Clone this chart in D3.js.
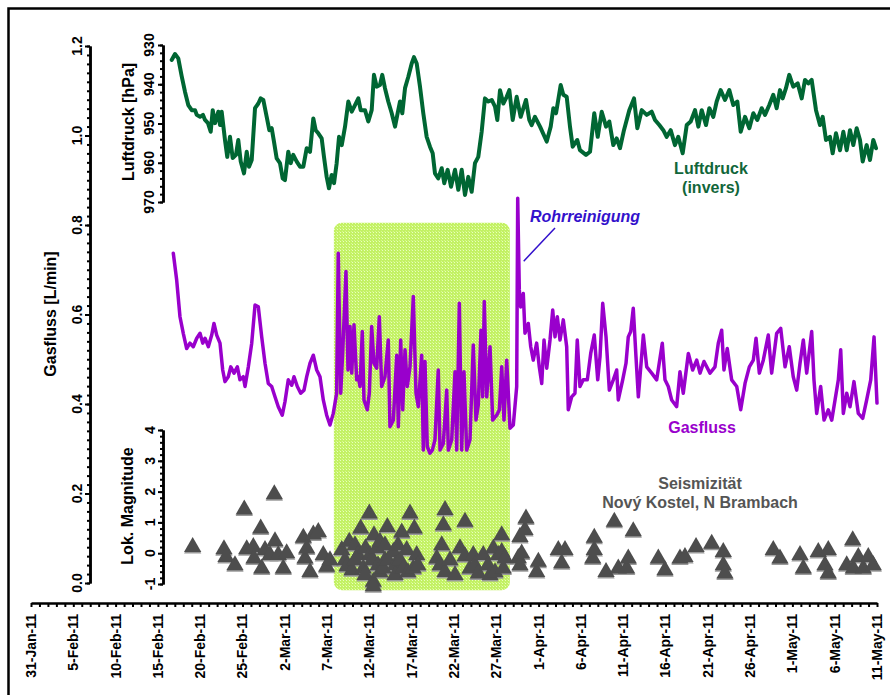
<!DOCTYPE html>
<html>
<head>
<meta charset="utf-8">
<script src="https://cdn.jsdelivr.net/npm/d3@7"></script>
<style>
  html, body { margin: 0; padding: 0; background: #fff; }
  svg { display: block; }
  text { font-family: "Liberation Sans", Arial, Helvetica, sans-serif; font-weight: bold; }
</style>
</head>
<body>
<svg id="chart" width="890" height="695"></svg>
<script>
// Time is given in days after 31 Jan 2011 (UTC).
const baseDate = Date.UTC(2011, 0, 31);

// Air pressure (hPa), drawn on an inverted axis: [day, hPa]
const luftdruck = [
  [16.63,933.8],[17.02,932.3],[17.41,933.4],[17.81,937.9],[18.20,941.9],[18.59,945.3],[19.00,946.6],[19.39,946.6],
  [19.59,947.8],[19.98,948.3],[20.33,947.8],[20.57,949.1],[20.92,949.9],[21.24,952.1],[21.48,946.6],[21.75,949.9],
  [22.14,947.0],[22.34,950.4],[22.54,947.0],[22.93,954.2],[23.20,958.5],[23.52,953.4],[23.84,958.8],[24.23,958.0],
  [24.50,954.2],[24.79,959.7],[25.18,962.7],[25.50,957.2],[25.77,961.0],[26.09,959.3],[26.48,946.1],[26.87,944.9],
  [27.15,943.6],[27.46,944.0],[27.86,948.3],[28.17,951.7],[28.45,951.2],[28.72,954.6],[29.04,958.9],[29.43,960.1],
  [29.75,964.0],[30.02,964.4],[30.41,957.2],[30.70,960.1],[31.00,958.0],[31.41,959.7],[31.80,961.0],[32.19,961.0],
  [32.59,956.3],[32.98,957.2],[33.37,948.7],[33.65,951.7],[33.96,952.5],[34.36,953.8],[34.63,958.5],[34.95,963.6],
  [35.22,966.5],[35.54,963.1],[35.82,965.2],[36.13,960.1],[36.41,953.4],[36.73,955.5],[37.12,950.8],[37.51,944.4],
  [37.91,947.0],[38.30,945.3],[38.69,943.6],[38.97,946.6],[39.48,946.6],[39.87,949.5],[40.27,946.6],[40.54,937.6],
  [40.86,940.6],[41.25,940.2],[41.52,937.6],[41.84,941.0],[42.23,944.4],[42.64,947.4],[43.03,950.8],[43.30,947.8],
  [43.62,944.4],[43.89,947.4],[44.21,941.0],[44.60,938.1],[45.00,934.7],[45.27,933.1],[45.59,934.7],[45.98,940.6],
  [46.37,947.4],[46.77,953.4],[47.16,955.9],[47.48,957.6],[47.75,962.7],[48.14,964.0],[48.55,961.4],[48.85,965.2],
  [49.25,961.8],[49.65,966.1],[50.12,961.8],[50.51,966.9],[50.91,961.8],[51.30,968.2],[51.69,963.6],[52.09,967.4],
  [52.48,960.1],[52.87,958.5],[53.27,952.1],[53.66,943.6],[54.05,944.4],[54.46,944.0],[54.85,945.7],[55.12,949.1],
  [55.44,941.5],[55.83,944.9],[56.23,943.2],[56.54,941.5],[56.94,949.1],[57.41,943.2],[57.88,948.3],[58.51,944.0],
  [58.90,949.1],[59.18,950.4],[59.57,948.3],[60.17,950.8],[60.96,954.6],[61.43,950.8],[61.74,946.1],[62.06,947.4],
  [62.61,940.2],[62.92,942.7],[63.32,943.2],[63.71,950.8],[64.03,955.9],[64.57,954.2],[64.89,956.8],[65.60,958.0],
  [66.08,957.2],[66.58,947.4],[66.99,953.4],[67.46,947.0],[67.97,950.8],[68.36,949.5],[68.83,955.5],[69.23,953.8],
  [69.62,956.3],[70.09,951.7],[70.72,946.6],[71.28,943.6],[71.67,951.2],[72.19,946.6],[72.78,947.8],[73.37,947.0],
  [73.76,949.1],[74.27,950.4],[74.74,951.7],[75.14,953.4],[75.61,951.7],[76.12,955.5],[76.51,953.4],[77.03,957.6],
  [77.51,950.4],[77.98,949.5],[78.49,946.6],[78.88,950.8],[79.28,946.6],[79.79,950.4],[80.18,946.1],[80.65,948.3],
  [81.05,944.4],[81.52,941.5],[82.03,944.0],[82.54,941.5],[83.01,945.3],[83.49,944.4],[83.89,952.1],[84.40,948.3],
  [84.91,951.2],[85.38,947.4],[85.85,949.1],[86.37,946.1],[86.76,947.8],[87.27,945.3],[87.74,942.7],[88.14,946.1],
  [88.53,941.5],[88.85,943.6],[89.24,941.0],[89.63,937.6],[90.10,940.6],[90.63,939.8],[91.10,943.6],[91.49,938.9],
  [91.88,939.8],[92.28,938.9],[92.79,946.6],[93.26,950.4],[93.58,948.3],[93.97,954.2],[94.44,953.4],[94.76,957.6],
  [95.15,952.5],[95.63,956.8],[96.02,952.1],[96.42,956.8],[96.81,951.7],[97.20,955.5],[97.60,951.2],[97.99,954.2],
  [98.31,959.7],[98.78,955.5],[99.17,959.3],[99.56,954.2],[99.88,956.3]
];

// Gas flow (L/min): [day, value]
const gasfluss = [
  [16.82,0.737],[17.22,0.677],[17.61,0.595],[18.00,0.558],[18.40,0.524],[18.79,0.536],[19.18,0.528],[19.59,0.547],
  [19.98,0.558],[20.30,0.536],[20.57,0.547],[20.96,0.528],[21.36,0.554],[21.63,0.580],[21.95,0.554],[22.34,0.536],
  [22.66,0.476],[22.93,0.450],[23.32,0.461],[23.61,0.483],[24.00,0.469],[24.39,0.483],[24.70,0.454],[25.09,0.461],
  [25.30,0.439],[25.69,0.483],[26.09,0.536],[26.48,0.621],[26.87,0.617],[27.27,0.550],[27.66,0.491],[28.05,0.446],
  [28.45,0.439],[28.84,0.416],[29.23,0.394],[29.70,0.375],[30.02,0.405],[30.41,0.454],[30.82,0.442],[31.09,0.461],
  [31.48,0.439],[31.88,0.424],[32.27,0.431],[32.59,0.461],[32.98,0.491],[33.37,0.509],[33.77,0.476],[34.16,0.461],
  [34.55,0.409],[34.95,0.375],[35.34,0.353],[35.73,0.379],[36.13,0.424],[36.32,0.737],[36.61,0.424],[36.84,0.513],
  [37.23,0.696],[37.47,0.476],[37.71,0.573],[37.91,0.469],[38.18,0.577],[38.50,0.454],[38.69,0.461],[38.89,0.439],
  [39.16,0.562],[39.36,0.409],[39.75,0.387],[39.99,0.424],[40.27,0.573],[40.54,0.491],[40.86,0.480],[41.17,0.595],
  [41.45,0.439],[41.84,0.461],[42.23,0.543],[42.43,0.349],[42.83,0.364],[43.23,0.509],[43.42,0.349],[43.70,0.543],
  [43.94,0.387],[44.21,0.521],[44.48,0.439],[44.80,0.483],[45.19,0.640],[45.51,0.424],[45.78,0.394],[46.18,0.509],
  [46.37,0.297],[46.57,0.495],[46.84,0.305],[47.16,0.290],[47.44,0.297],[47.75,0.320],[48.14,0.476],[48.35,0.297],
  [48.74,0.312],[49.14,0.431],[49.33,0.297],[49.73,0.320],[50.12,0.472],[50.32,0.297],[50.63,0.625],[50.91,0.297],
  [51.18,0.472],[51.50,0.297],[51.89,0.320],[52.28,0.532],[52.60,0.364],[52.87,0.398],[53.19,0.565],[53.39,0.416],
  [53.58,0.629],[53.87,0.416],[54.26,0.528],[54.57,0.364],[55.05,0.375],[55.36,0.387],[55.64,0.483],[55.91,0.364],
  [56.23,0.498],[56.62,0.346],[57.01,0.353],[57.41,0.439],[57.53,0.860],[57.72,0.655],[57.88,0.617],[58.19,0.647],
  [58.39,0.558],[58.78,0.580],[59.07,0.528],[59.37,0.498],[59.77,0.536],[60.08,0.483],[60.37,0.446],[60.64,0.543],
  [60.96,0.480],[61.35,0.543],[61.67,0.610],[61.94,0.550],[62.21,0.595],[62.53,0.543],[62.92,0.588],[63.32,0.528],
  [63.51,0.387],[63.91,0.416],[64.30,0.424],[64.57,0.543],[64.89,0.439],[65.28,0.454],[65.76,0.454],[66.16,0.513],
  [66.58,0.554],[66.99,0.454],[67.26,0.506],[67.58,0.625],[67.97,0.550],[68.36,0.431],[68.83,0.454],[69.23,0.476],
  [69.42,0.409],[69.94,0.454],[70.33,0.491],[70.60,0.550],[70.89,0.562],[71.19,0.614],[71.51,0.506],[71.79,0.416],
  [72.38,0.554],[72.78,0.483],[73.37,0.469],[73.96,0.454],[74.62,0.536],[74.94,0.454],[75.33,0.439],[75.73,0.409],
  [76.32,0.394],[76.71,0.472],[77.10,0.424],[77.70,0.513],[78.21,0.476],[78.69,0.498],[79.08,0.469],[79.55,0.495],
  [80.26,0.469],[80.85,0.483],[81.24,0.536],[81.64,0.565],[81.91,0.476],[82.30,0.524],[82.82,0.454],[83.42,0.439],
  [83.89,0.387],[84.40,0.446],[84.91,0.483],[85.38,0.498],[85.70,0.547],[86.09,0.469],[86.56,0.498],[87.15,0.554],
  [87.55,0.469],[88.14,0.558],[88.62,0.569],[89.13,0.483],[89.63,0.528],[90.10,0.461],[90.51,0.431],[90.90,0.491],
  [91.29,0.543],[91.69,0.469],[92.28,0.562],[92.55,0.454],[92.87,0.379],[93.34,0.439],[93.74,0.364],[94.24,0.387],
  [94.65,0.364],[95.04,0.409],[95.43,0.454],[95.71,0.521],[96.02,0.379],[96.42,0.424],[96.81,0.394],[97.28,0.450],
  [97.79,0.379],[98.31,0.368],[98.78,0.409],[99.26,0.454],[99.65,0.550],[100.0,0.402]
];

// Local magnitudes of the earthquakes: [day, magnitude]
const seismizitaet = [
  [19.11,0.20],[22.81,0.13],[23.05,-0.12],[24.11,-0.39],[25.21,1.42],[25.50,0.13],[26.28,0.20],[26.36,-0.17],
  [27.15,0.80],[27.27,-0.50],[27.66,0.10],[28.25,-0.06],[28.76,1.91],[28.84,0.39],[29.23,-0.06],[29.82,-0.50],
  [30.22,0.00],[32.19,0.50],[32.39,-0.17],[32.59,0.15],[32.98,-0.61],[33.37,0.61],[33.96,0.69],[34.55,-0.06],
  [34.95,-0.44],[35.34,-0.23],[36.73,0.10],[37.12,-0.23],[37.35,-0.42],[37.62,0.37],[37.94,-0.55],[38.30,-0.23],
  [38.30,0.26],[38.65,-0.06],[38.97,0.80],[39.28,-0.50],[39.48,-0.71],[39.54,0.16],[39.99,1.29],[40.07,-0.06],
  [40.31,-0.23],[40.46,-0.93],[40.46,-1.07],[40.54,0.58],[40.90,0.16],[41.02,-0.39],[41.25,0.37],[41.25,-0.62],
  [41.64,-0.50],[41.84,-0.23],[41.84,0.26],[42.12,0.85],[42.20,-0.23],[42.83,0.04],[43.03,-0.39],[43.03,-0.71],
  [43.38,0.26],[43.62,-0.23],[43.82,0.67],[44.01,-0.50],[44.41,0.10],[44.56,-0.62],[44.80,1.29],[45.19,-0.50],
  [45.31,0.80],[45.59,-0.06],[45.74,-0.39],[47.96,-0.17],[48.35,-0.39],[48.55,0.26],[48.74,0.91],[48.94,1.40],
  [48.94,-0.61],[49.53,-0.23],[50.12,-0.71],[50.71,0.16],[51.30,1.02],[51.30,-0.10],[51.89,-0.50],[52.28,-0.06],
  [52.48,-0.39],[52.87,-0.66],[53.46,-0.06],[54.02,-0.39],[54.26,-0.71],[54.65,0.15],[54.85,-0.62],[55.24,-0.06],
  [55.64,0.58],[55.64,0.04],[55.83,-0.50],[56.03,-0.16],[57.60,-0.16],[57.80,0.53],[57.80,-0.39],[58.00,-0.01],
  [58.39,0.75],[58.51,1.13],[59.77,-0.61],[59.97,-0.28],[62.33,0.10],[62.73,-0.33],[63.12,0.10],[66.40,-0.17],
  [66.58,0.50],[66.58,0.10],[67.97,-0.61],[68.95,1.02],[69.42,-0.50],[70.41,-0.50],[70.60,-0.17],[71.19,0.71],
  [74.15,-0.17],[74.94,-0.55],[76.71,-0.17],[77.30,-0.12],[78.61,0.20],[80.46,0.31],[81.83,0.04],[81.83,-0.39],
  [82.03,-0.66],[87.74,0.10],[88.53,-0.17],[90.90,-0.06],[91.29,-0.50],[93.06,0.04],[93.85,-0.39],[94.24,0.10],
  [94.24,-0.66],[96.42,-0.39],[97.13,0.42],[97.20,-0.50],[97.79,-0.12],[98.38,-0.50],[98.97,-0.12],[99.56,-0.39]
];

// Swarm period shaded in green: [start day, end day]
const schwarmPeriode = [35.8, 56.6];
// Gas-flow peak caused by the pipe cleaning
const rohrreinigung = [57.53, 0.860];

// Axis ticks
const gasTicks = [0.0, 0.2, 0.4, 0.6, 0.8, 1.0, 1.2];
const druckTicks = [930, 940, 950, 960, 970];
const magTicks = [-1, 0, 1, 2, 3, 4];
const dateLabelStep = 5;

const toDate = d => new Date(baseDate + d * 864e5);
const svg = d3.select("#chart");

// Scales
const x = d3.scaleUtc().domain([toDate(0), toDate(100)]).range([31, 877]);
const yGas = d3.scaleLinear().domain([0, 1.2]).range([583, 46]);
const yDruck = d3.scaleLinear().domain([930, 970]).range([45, 202]);
const yMag = d3.scaleLinear().domain([-1, 4]).range([584, 430]);

// Outer frame
svg.append("rect").attr("x", 8.5).attr("y", 8.5).attr("width", 900).attr("height", 700)
  .attr("fill", "none").attr("stroke", "#000").attr("stroke-width", 2.5);

// Dotted light-green fill for the swarm period
const defs = svg.append("defs");
const pat = defs.append("pattern").attr("id", "dots").attr("patternUnits", "userSpaceOnUse")
  .attr("width", 3).attr("height", 3);
pat.append("rect").attr("width", 3).attr("height", 3).attr("fill", "#c3f164");
pat.append("rect").attr("x", 1).attr("y", 1).attr("width", 1).attr("height", 1).attr("fill", "#e9ffbe");
pat.append("rect").attr("x", 0).attr("y", 0).attr("width", 1).attr("height", 1).attr("fill", "#d6fa90");

svg.append("rect")
  .attr("x", x(toDate(schwarmPeriode[0])))
  .attr("y", yGas(0.805))
  .attr("width", x(toDate(schwarmPeriode[1])) - x(toDate(schwarmPeriode[0])))
  .attr("height", yMag(-1.2) - yGas(0.805))
  .attr("rx", 8).attr("ry", 8)
  .attr("fill", "url(#dots)");

// Axes helpers
function styleAxis(g, width) {
  g.select(".domain").attr("stroke", "#000").attr("stroke-width", width);
  g.selectAll(".tick line").attr("stroke", "#000").attr("stroke-width", 2);
  g.selectAll(".tick text").remove();
}

function verticalAxis(scale, xPos, major, minorStep, labelX, fmt) {
  const [a, b] = scale.domain();
  const lo = Math.min(a, b), hi = Math.max(a, b);
  const minor = d3.range(lo, hi + minorStep / 2, minorStep);
  const gMinor = svg.append("g").attr("transform", `translate(${xPos},0)`)
    .call(d3.axisLeft(scale).tickValues(minor).tickSize(3).tickSizeOuter(0));
  styleAxis(gMinor, 2.5);
  const gMajor = svg.append("g").attr("transform", `translate(${xPos},0)`)
    .call(d3.axisLeft(scale).tickValues(major).tickSize(5).tickSizeOuter(0));
  styleAxis(gMajor, 2.5);
  svg.append("g").selectAll("text").data(major).join("text")
    .attr("transform", d => `translate(${labelX},${scale(d)}) rotate(-90)`)
    .attr("text-anchor", "middle").attr("dy", "0.35em")
    .attr("font-size", 14).attr("fill", "#000")
    .text(fmt);
}

verticalAxis(yGas, 90, gasTicks, 0.02, 77, d3.format(".1f"));
verticalAxis(yDruck, 163, druckTicks, 2, 149, d => d);
verticalAxis(yMag, 163, magTicks, 0.2, 150, d => d);

// Time axis
const days = d3.range(0, 101).map(toDate);
const gx = svg.append("g").attr("transform", "translate(0,603)")
  .call(d3.axisBottom(x).tickValues(days).tickSize(4).tickSizeOuter(0));
styleAxis(gx, 2.5);
const labelDays = d3.range(0, 101, dateLabelStep).map(toDate);
const fmtDate = d3.utcFormat("%-d-%b-%y");
svg.append("g").selectAll("text").data(labelDays).join("text")
  .attr("transform", d => `translate(${x(d)},614) rotate(-90)`)
  .attr("text-anchor", "end").attr("dy", "0.35em")
  .attr("font-size", 14).attr("fill", "#000")
  .text(fmtDate);

// Axis titles
function vTitle(txt, cx, cy) {
  svg.append("text").attr("transform", `translate(${cx},${cy}) rotate(-90)`)
    .attr("text-anchor", "middle").attr("dy", "0.35em")
    .attr("font-size", 16).attr("fill", "#000").text(txt);
}
vTitle("Gasfluss [L/min]", 50, 314);
vTitle("Luftdruck [hPa]", 128, 122);
vTitle("Lok. Magnitude", 127, 506);

// Earthquakes
const tri = d3.symbol().type(d3.symbolTriangle).size(130);
const gq = svg.append("g");
gq.selectAll("path.shadow").data(seismizitaet).join("path").attr("class", "shadow")
  .attr("d", tri).attr("fill", "#9a9a9a")
  .attr("transform", d => `translate(${x(toDate(d[0]))},${yMag(d[1]) + 1.5})`);
gq.selectAll("path.quake").data(seismizitaet).join("path").attr("class", "quake")
  .attr("d", tri).attr("fill", "#4d4d4d")
  .attr("transform", d => `translate(${x(toDate(d[0]))},${yMag(d[1])})`);

// Gas flow line
svg.append("path").datum(gasfluss)
  .attr("fill", "none").attr("stroke", "#9900cc").attr("stroke-width", 3.5)
  .attr("stroke-linejoin", "round").attr("stroke-linecap", "round")
  .attr("d", d3.line().x(d => x(toDate(d[0]))).y(d => yGas(d[1])));

// Air pressure line
svg.append("path").datum(luftdruck)
  .attr("fill", "none").attr("stroke", "#006633").attr("stroke-width", 4)
  .attr("stroke-linejoin", "round").attr("stroke-linecap", "round")
  .attr("d", d3.line().x(d => x(toDate(d[0]))).y(d => yDruck(d[1])));

// Labels
function label(lines, cx, cy, color, size, italic) {
  const t = svg.append("text").attr("text-anchor", "middle").attr("fill", color)
    .attr("font-size", size).attr("font-style", italic ? "italic" : "normal");
  lines.forEach((s, i) => t.append("tspan").attr("x", cx).attr("y", cy + i * 19).text(s));
}
label(["Luftdruck", "(invers)"], 711, 174, "#11663a", 16);
label(["Gasfluss"], 702, 433, "#9900cc", 16);
label(["Seismizität", "Nový Kostel, N Brambach"], 700, 489, "#555555", 16);
label(["Rohrreinigung"], 585, 222, "#3311cc", 16, true);

// Pointer from the label to the pipe-cleaning peak
const px = x(toDate(rohrreinigung[0])), py = yGas(rohrreinigung[1]);
svg.append("line").attr("x1", 555).attr("y1", 228).attr("x2", px + 6).attr("y2", py + 63)
  .attr("stroke", "#3311cc").attr("stroke-width", 1.5);
</script>
</body>
</html>
